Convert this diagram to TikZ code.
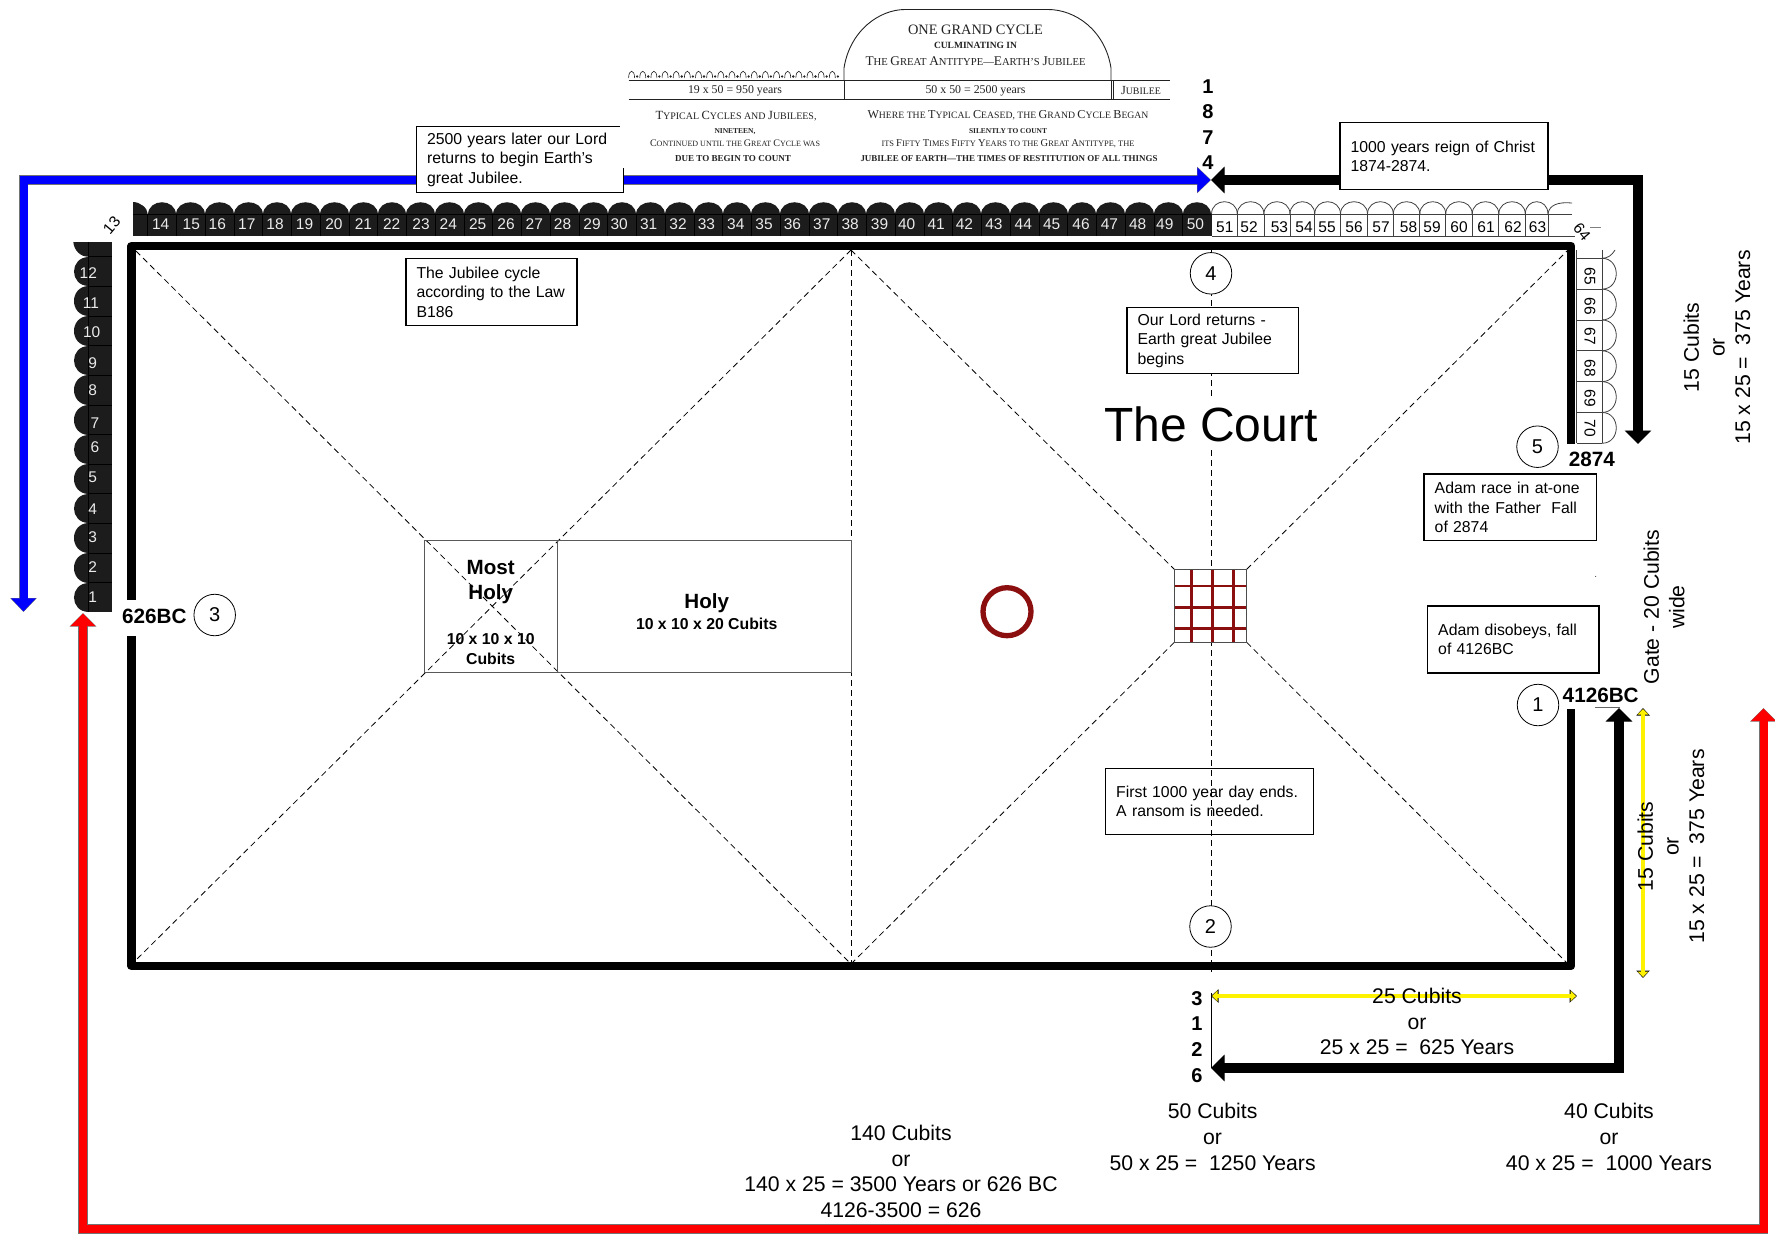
\documentclass[tikz,border=0pt]{standalone}
\usepackage{graphicx}
\usepackage{fontspec}
\setmainfont{Liberation Sans}
\newfontfamily\serf{Liberation Serif}
\usetikzlibrary{arrows.meta}
\definecolor{darkrow}{HTML}{1C1C1C}
\definecolor{maroonc}{HTML}{8B0F0F}
\definecolor{scan}{HTML}{222222}
\newcommand{\fs}[2]{\fontsize{#1}{#2}\selectfont}
\newcommand{\Bg}[1]{{\fontsize{12.5}{12.5}\selectfont #1}}
\newcommand{\W}[2]{\resizebox{#1pt}{!}{#2}}
\newcommand{\fat}[6]{%
  \draw[#2,line width=#3pt+1.2pt,line join=miter,{Triangle[length=#4pt+1pt,width=#5pt+2pt,sep=0pt]}-{Triangle[length=#4pt+1pt,width=#5pt+2pt,sep=0pt]}] #6;
  \draw[#1,line width=#3pt,line join=miter,{Triangle[length=#4pt,width=#5pt,sep=0pt]}-{Triangle[length=#4pt,width=#5pt,sep=0pt]},shorten <=0.6pt,shorten >=0.6pt] #6;}
\tikzset{
  x=1pt,y=-1pt,
  cbox/.style={draw=black,line width=1.4pt,fill=white,anchor=north west,align=left,inner xsep=10.5pt,inner ysep=0pt,font=\fs{15.8}{19.5}},
  nbox/.style={cbox,fill=none},
  numc/.style={draw=black,line width=0.8pt,fill=white,circle,minimum size=41.5pt,inner sep=0pt,font=\fs{20}{20}},
  blab/.style={font=\fs{20.7}{24}\bfseries,inner sep=0pt},
  dimt/.style={align=center,inner sep=0pt,font=\fs{21.2}{25.6}},
  tickt/.style={font=\fs{15.5}{16},inner sep=0pt},
  tickw/.style={tickt,text=white!92!black},
  yr/.style={font=\fs{20}{20}\bfseries,inner sep=0pt},
  dsh/.style={draw=black,line width=0.8pt,dash pattern=on 6pt off 4pt},
  thinl/.style={draw=black!75,line width=0.8pt},
  scant/.style={inner sep=0pt,text=scan,font=\serf},
}
\begin{document}
\begin{tikzpicture}
\useasboundingbox (0,0) rectangle (1775,1234);
% ---- coordinates
\coordinate (blueS) at (23.5,612); \coordinate (blueC) at (23.5,180); \coordinate (tip) at (1211,180);
\coordinate (blkA) at (1638,180); \coordinate (blkB) at (1638,444);
\coordinate (botT) at (1211,1068); \coordinate (botC) at (1619,1068); \coordinate (botU) at (1619,708);
\coordinate (redA) at (83,613); \coordinate (redB) at (83,1229); \coordinate (redC) at (1763.5,1229); \coordinate (redD) at (1763.5,708);
\coordinate (TL) at (131.7,246); \coordinate (TR) at (1571,246); \coordinate (BL) at (131.7,966); \coordinate (BR) at (1571,966);
\coordinate (MT) at (851,250); \coordinate (MB) at (851,964);
% ---- diagonals and centre lines
\draw[dsh] (136,251) -- (MB);
\draw[dsh] (MT) -- (133,963);
\draw[dsh] (MT) -- (MB);
\draw[dsh] (MT) -- (1174.3,569.3);
\draw[dsh] (MB) -- (1174.3,642.3);
\draw[dsh] (1246.7,569.3) -- (1567,251);
\draw[dsh] (1246.7,642.3) -- (1567,963);
\draw[dsh] (1211,250) -- (1211,972);
% ---- sanctuary
\draw[draw=black!65,line width=1pt] (424.3,540) rectangle (557.7,672.3);
\draw[draw=black!65,line width=1pt] (557.7,540) rectangle (851,672.3);
\node[inner sep=0pt,font=\fs{20.6}{25}\bfseries,align=center] (mh) at (490.7,582) {Most\\Holy};
\node[inner sep=0pt,font=\fs{15.8}{20.5}\bfseries,align=center] (mhd) at (490.7,649) {10 x 10 x 10\\Cubits};
\node[inner sep=0pt,font=\fs{20.6}{25}\bfseries] (h) at (706.7,603.5) {Holy};
\node[inner sep=0pt,font=\fs{15.8}{20}\bfseries] (hd) at (706.7,624.3) {10 x 10 x 20 Cubits};
% ---- altar and laver
\draw[draw=maroonc,line width=5.3pt] (1007,611.7) circle[radius=24];
\fill[white] (1174.3,569.3) rectangle (1246.7,642.3);
\foreach \v in {1191.3,1212.3,1233.3} \draw[maroonc,line width=2.4pt] (\v,569.3) -- (\v,642.3);
\foreach \v in {586,607.3,628.3} \draw[maroonc,line width=2.4pt] (1174.3,\v) -- (1246.7,\v);
\draw[draw=black!70,line width=1pt] (1174.3,569.3) rectangle (1246.7,642.3);
% ---- court frame
\draw[line width=8.8pt,line join=round] (1571,443.5) -- (TR) -- (TL) -- (131.7,600);
\draw[line width=8.8pt,line join=round] (131.7,636) -- (BL) -- (BR) -- (1571,709);
% ---- dark top row
\fill[darkrow] (133,214) rectangle (1211.5,236);
\fill[darkrow] (133,214) -- (133,202) .. controls (140,202) and (147.7,208) .. (147.7,214) -- cycle;
\foreach \k in {0,...,36}{
  \pgfmathsetmacro{\xa}{147.7+28.75*\k}\pgfmathsetmacro{\xb}{\xa+28.75}
  \fill[darkrow] (\xa,214.5) .. controls (\xa,197.5) and (\xb,197.5) .. (\xb,214.5) -- cycle;
  \draw[black,line width=0.7pt] (\xa,214) -- (\xa,236);
}
\draw[black,line width=0.6pt] (133,214) -- (1211.5,214);
\foreach \n/\x in {14/142,15/169,16/192,17/218,18/243,19/269,20/295,21/321,22/346,23/372,24/396,25/422,26/447,27/472,28/497,29/523,30/547,31/573,32/599,33/624,34/650,35/675,36/700,37/726,38/751,39/777,40/801,41/827,42/852,43/878,44/904,45/929,46/955,47/980,48/1005,49/1029,50/1056}
  \node[tickw] (t\n) at ({\x*1.132},224.5) {\n};
% ---- white top row
\foreach \xa/\xb in {1211.5/1237.3,1237.3/1263.9,1263.9/1290,1290/1314.7,1314.7/1340.5,1340.5/1367.5,1367.5/1393.3,1393.3/1419.8,1419.8/1445.7,1445.7/1472.2,1472.2/1498.8,1498.8/1525.3,1525.3/1548}{
  \draw[thinl] (\xa,214.3) .. controls (\xa,197.5) and (\xb,197.5) .. (\xb,214.3);
  \draw[thinl] (\xb,214.3) -- (\xb,236);
}
\draw[thinl] (1548,214) .. controls (1549,205) and (1558,201.7) .. (1572,203);
\draw[thinl] (1211.5,214.3) -- (1572,214.3);
\draw[thinl] (1211.5,236) -- (1575,236);
\draw[draw=black!50,line width=0.6pt] (1590,227) -- (1601,227);
\foreach \n/\x in {51/1224.8,52/1249,53/1279.4,54/1304,55/1327,56/1354,57/1381,58/1408.5,59/1432,60/1459,61/1486,62/1513,63/1537.5}
  \node[tickt] (t\n) at (\x,227) {\n};
\node[tickt,rotate=-50] (t64) at (1582,232) {64};
\node[tickt,rotate=50] (t13) at (111.7,225) {13};
% ---- dark left column
\fill[darkrow] (88.3,242) rectangle (112.3,612.3);
\fill[darkrow] (73.3,242) .. controls (74,250) and (80,256.7) .. (88.3,256.7) -- (88.3,242) -- cycle;
\foreach \k in {0,...,11}{
  \pgfmathsetmacro{\ya}{256.7+29.64*\k}\pgfmathsetmacro{\yb}{\ya+29.64}
  \fill[darkrow] (88.5,\ya) .. controls (68.5,\ya) and (68.5,\yb) .. (88.5,\yb) -- cycle;
  \draw[black,line width=0.7pt] (88.3,\ya) -- (112.3,\ya);
}
\draw[black,line width=0.7pt] (88.3,242) -- (88.3,612.3);
\foreach \n/\x/\y in {12/88.3/272.7,11/91/302.7,10/91.7/332,9/92.7/362.7,8/92.7/390,7/95/422.7,6/95/447.3,5/92.7/477.3,4/92.7/509.3,3/92.7/536.7,2/92.7/566.7,1/92.7/596.7}
  \node[tickw] (l\n) at (\x,\y) {\n};
% ---- white right column
\draw[thinl] (1576.6,250) -- (1576.6,443.3);
\draw[thinl] (1602,250) -- (1602,443.3);
\draw[thinl] (1602,258.3) .. controls (1608,258.3) and (1612,255) .. (1615,250);
\foreach \k in {0,...,5}{
  \pgfmathsetmacro{\ya}{258.3+30.83*\k}\pgfmathsetmacro{\yb}{\ya+30.83}
  \draw[thinl] (1602,\ya) .. controls (1621,\ya) and (1621,\yb) .. (1602,\yb);
  \draw[thinl] (1576.6,\ya) -- (1602,\ya);
}
\draw[thinl] (1576.6,443.3) -- (1602,443.3);
\foreach \n/\y in {65/276,66/306,67/336,68/368,69/398,70/428}
  \node[tickt,rotate=-90] (r\n) at (1590,\y) {\n};
% ---- scanned chart
\draw[draw=scan,line width=0.9pt] (844,80) -- (844,68) .. controls (850,30) and (880,9.5) .. (905,9.5) -- (1048,9.5) .. controls (1075,9.5) and (1105,30) .. (1111,68) -- (1111,80);
\draw[draw=scan,line width=1pt] (628.6,80) -- (1170,80);
\draw[draw=scan,line width=1.3pt] (628.6,99.5) -- (1170,99.5);
\draw[draw=scan,line width=0.9pt] (844,80) -- (844,99.5);
\draw[draw=scan,line width=0.8pt] (1111,80) -- (1111,99.5) (1113,80) -- (1113,99.5);
\foreach \k in {0,...,18}{
  \pgfmathsetmacro{\xa}{628.6+11.15*\k}\pgfmathsetmacro{\xb}{\xa+6}
  \draw[draw=scan,line width=0.6pt] (\xa,78) .. controls (\xa,69) and (\xb,69) .. (\xb,78);
  \fill[scan] ({\xa+8.5},76.5) circle[radius=1.3];
}
\node[scant] (g1) at (975.5,30) {\W{135}{ONE GRAND CYCLE}};
\node[scant] (g2) at (975.5,45.5) {\W{83}{\bfseries CULMINATING IN}};
\node[scant] (g3) at (975.5,61) {\W{220}{\fs{10}{12}\Bg{T}HE \Bg{G}REAT \Bg{A}NTITYPE—\Bg{E}ARTH’S \Bg{J}UBILEE}};
\node[scant] (g4) at (735,90.7) {\W{94}{19 x 50 = 950 years}};
\node[scant] (g5) at (975.5,90.7) {\W{100}{50 x 50 = 2500 years}};
\node[scant] (g6) at (1141,90.7) {\W{40}{\fs{10}{12}\Bg{J}UBILEE}};
\node[scant] (g7) at (736,115.7) {\W{161}{\fs{10}{12}\Bg{T}YPICAL \Bg{C}YCLES AND \Bg{J}UBILEES,}};
\node[scant] (g8) at (735,131.7) {\W{41}{\bfseries NINETEEN,}};
\node[scant] (g9) at (735,143.3) {\W{170}{\fs{10}{12}\Bg{C}ONTINUED UNTIL THE \Bg{G}REAT \Bg{C}YCLE WAS}};
\node[scant] (g10) at (733,159) {\W{116}{\bfseries DUE TO BEGIN TO COUNT}};
\node[scant] (g11) at (1008,115.7) {\W{281}{\fs{10}{12}\Bg{W}HERE THE \Bg{T}YPICAL \Bg{C}EASED, THE \Bg{G}RAND \Bg{C}YCLE \Bg{B}EGAN}};
\node[scant] (g12) at (1008,131) {\W{78}{\bfseries SILENTLY TO COUNT}};
\node[scant] (g13) at (1008,143.7) {\W{253}{\fs{10}{12}ITS \Bg{F}IFTY \Bg{T}IMES \Bg{F}IFTY \Bg{Y}EARS TO THE \Bg{G}REAT \Bg{A}NTITYPE, THE}};
\node[scant] (g14) at (1009,159) {\W{297}{\bfseries JUBILEE OF EARTH—THE TIMES OF RESTITUTION OF ALL THINGS}};
% ---- arrows
\fat{blue}{black!55}{8}{13}{24}{(blueS) -- (blueC) -- (tip)}
\fat{black}{black}{8}{12.5}{24}{(tip) -- (blkA) -- (blkB)}
\fat{black}{black}{8}{12.5}{24}{(botT) -- (botC) -- (botU)}
\fat{red}{black!55}{8}{12.5}{24}{(redA) -- (redB) -- (redC) -- (redD)}
\draw[black,line width=0.8pt] (1211,993) -- (botT);
\draw[draw=black!60,line width=0.7pt] (1595,707.7) -- (1620,707.7);
\fill[black] (1595.7,576.3) circle[radius=0.5];
% yellow dimension arrows
\coordinate (yA) at (1211,996); \coordinate (yB) at (1577,996); \coordinate (yC) at (1643,708); \coordinate (yD) at (1643,978);
\foreach \p/\q in {yA/yB,yC/yD}{
  \draw[black,line width=4.6pt,{Triangle[length=7.5pt,width=13pt,sep=0pt]}-{Triangle[length=7.5pt,width=13pt,sep=0pt]}] (\p) -- (\q);
  \draw[yellow,line width=3.2pt,{Triangle[length=5.5pt,width=10.5pt,sep=0pt]}-{Triangle[length=5.5pt,width=10.5pt,sep=0pt]},shorten <=1pt,shorten >=1pt] (\p) -- (\q);
}
% ---- boxes
\node[cbox,minimum width=207.3pt,minimum height=66pt,text width=186pt] (bA) at (415.7,126) {2500 years later our Lord\\returns to begin Earth's\\great Jubilee.};
\fill[white] (619.5,100) rectangle (630,168);
\node[cbox,minimum width=208pt,minimum height=67pt,text width=187pt] (bB) at (1339.4,122) {1000 years reign of Christ\\1874-2874.};
\node[cbox,minimum width=171pt,minimum height=66.7pt,text width=150pt] (bC) at (405.3,258) {The Jubilee cycle\\\mbox{according to the Law}\\B186};
\node[cbox,minimum width=171.3pt,minimum height=66pt,text width=150pt] (bD) at (1126.3,307) {Our Lord returns -\\Earth great Jubilee\\begins};
\node[cbox,minimum width=172.4pt,minimum height=66.7pt,text width=151pt] (bE) at (1423.3,473.3) {Adam race in at-one\\\mbox{with the Father\ \ Fall}\\of 2874};
\node[cbox,minimum width=171.6pt,minimum height=67pt,text width=150pt] (bF) at (1426.7,605.3) {Adam disobeys, fall\\of 4126BC};
\node[nbox,minimum width=208pt,minimum height=66.5pt,text width=187pt] (bG) at (1105,767.5) {First 1000 year day ends.\\A ransom is needed.};
% ---- court title
\node[fill=white,inner xsep=2pt,inner ysep=8pt,font=\fs{48}{48}] (court) at (1211,424.5) {The Court};
% ---- numbered circles
\node[numc] (n1) at (1538,705) {1};
\node[numc] (n2) at (1210.5,926.5) {2};
\node[numc] (n3) at (214.7,615) {3};
\node[numc] (n4) at (1211,273.3) {4};
\node[numc] (n5) at (1537.5,446.7) {5};
\node[blab] (d1) at (154.3,616.7) {626BC};
\node[blab] (d2) at (1591.8,459) {2874};
\node[blab] (d3) at (1600.7,695) {4126BC};
\foreach \d/\y/\nm in {1/87/a,8/112/b,7/138/c,4/163/d} \node[yr] (y\nm) at (1208,\y) {\d};
\foreach \d/\y/\nm in {3/999/a,1/1024/b,2/1049.3/c,6/1075.7/d} \node[yr] (z\nm) at (1197,\y) {\d};
% ---- measures
\node[dimt] (m1) at (1417,1021.5) {25 Cubits\\or\\25 x 25 =\ \ 625 Years};
\node[dimt] (m2) at (1212.6,1137) {50 Cubits\\or\\50 x 25 =\ \ 1250 Years};
\node[dimt] (m3) at (1609,1137) {40 Cubits\\or\\40 x 25 =\ \ 1000 Years};
\node[dimt] (m4) at (901,1171.5) {140 Cubits\\or\\140 x 25 = 3500 Years or 626 BC\\4126-3500 = 626};
\node[dimt,rotate=90] (m5) at (1717,347.5) {15 Cubits\\or\\15 x 25 =\ \ 375 Years};
\node[dimt,rotate=90] (m6) at (1671,846.5) {15 Cubits\\or\\15 x 25 =\ \ 375 Years};
\node[dimt,rotate=90] (m7) at (1664,607) {Gate - 20 Cubits\\wide};
\end{tikzpicture}
\end{document}
